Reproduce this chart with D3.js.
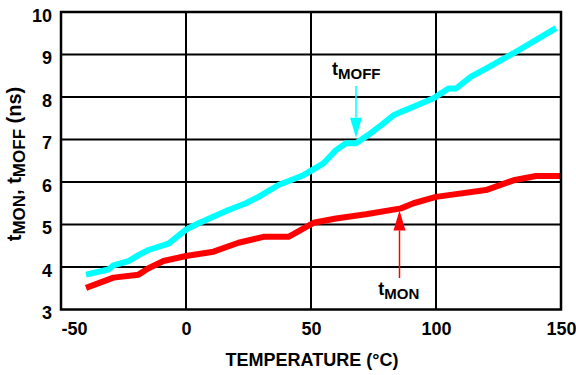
<!DOCTYPE html>
<html>
<head>
<meta charset="utf-8">
<script src="https://cdn.jsdelivr.net/npm/d3@7"></script>
<style>
  body { margin: 0; background: #fff; }
  svg text { font-family: "Liberation Sans", Arial, sans-serif; font-weight: bold; fill: #000; }
</style>
</head>
<body>
<div id="chart"></div>
<script>
// temperature (degC) and delay (ns)
const tMoffTemp = [-40, -31, -29, -23, -19, -15, -7, 0, 5, 17, 24, 29, 37, 47, 55, 60, 64, 68, 73, 79, 83, 86, 91, 99, 105, 108, 114, 120, 131, 148];
const tMoffNs = [3.82, 3.94, 4.04, 4.14, 4.28, 4.40, 4.55, 4.88, 5.03, 5.34, 5.50, 5.65, 5.93, 6.16, 6.44, 6.75, 6.91, 6.91, 7.11, 7.38, 7.57, 7.65, 7.77, 7.97, 8.20, 8.20, 8.48, 8.67, 9.03, 9.62];
const tMonTemp = [-40, -29, -19, -15, -9, 0, 11, 21, 31, 41, 51, 60, 72, 86, 91, 100, 120, 131, 140, 150];
const tMonNs = [3.51, 3.75, 3.82, 3.97, 4.14, 4.26, 4.36, 4.57, 4.71, 4.71, 5.04, 5.14, 5.24, 5.38, 5.50, 5.65, 5.81, 6.04, 6.14, 6.14];
const xTicks = [-50, 0, 50, 100, 150];
const yTicks = [3, 4, 5, 6, 7, 8, 9, 10];

const width = 576, height = 375;
const margin = { top: 12, right: 15, bottom: 65.5, left: 61 };

const svg = d3.select('#chart')
  .append('svg')
  .attr('width', width)
  .attr('height', height);

const x = d3.scaleLinear().domain([-50, 150]).range([margin.left, width - margin.right]);
const y = d3.scaleLinear().domain([3, 10]).range([height - margin.bottom, margin.top]);

// grid
const grid = svg.append('g').attr('class', 'grid');
grid.selectAll('line.v')
  .data(xTicks.slice(1, -1))
  .join('line')
  .attr('class', 'v')
  .attr('x1', d => x(d)).attr('x2', d => x(d))
  .attr('y1', y(3)).attr('y2', y(10))
  .attr('stroke', '#000').attr('stroke-width', 2);
grid.selectAll('line.h')
  .data(yTicks.slice(1, -1))
  .join('line')
  .attr('class', 'h')
  .attr('x1', x(-50)).attr('x2', x(150))
  .attr('y1', d => y(d)).attr('y2', d => y(d))
  .attr('stroke', '#000').attr('stroke-width', 2);

// series
const line = d3.line()
  .x(d => x(d[0]))
  .y(d => y(d[1]));

svg.append('path')
  .datum(d3.zip(tMoffTemp, tMoffNs))
  .attr('d', line)
  .attr('fill', 'none')
  .attr('stroke', '#00ffff')
  .attr('stroke-width', 6)
  .attr('stroke-linejoin', 'round');

svg.append('path')
  .datum(d3.zip(tMonTemp, tMonNs))
  .attr('d', line)
  .attr('fill', 'none')
  .attr('stroke', '#ff0000')
  .attr('stroke-width', 6)
  .attr('stroke-linejoin', 'round');

// frame
svg.append('rect')
  .attr('x', x(-50)).attr('y', y(10))
  .attr('width', x(150) - x(-50)).attr('height', y(3) - y(10))
  .attr('fill', 'none').attr('stroke', '#000').attr('stroke-width', 2.5);

// axes (labels only, the frame draws the lines)
const xAxis = svg.append('g')
  .attr('transform', `translate(0,${y(3)})`)
  .call(d3.axisBottom(x).tickValues(xTicks).tickFormat(d => String(d)).tickSize(0).tickPadding(0));
xAxis.select('.domain').remove();
xAxis.selectAll('text')
  .attr('font-size', 18)
  .attr('dy', 25)
  .attr('text-anchor', d => d === -50 ? 'start' : 'middle');

const yAxis = svg.append('g')
  .attr('transform', `translate(${x(-50)},0)`)
  .call(d3.axisLeft(y).tickValues(yTicks).tickFormat(d3.format('d')).tickSize(0).tickPadding(9));
yAxis.select('.domain').remove();
yAxis.selectAll('text')
  .attr('font-size', 18)
  .attr('dy', '0.5em');

// axis titles
svg.append('text')
  .attr('x', 312)
  .attr('y', 366)
  .attr('text-anchor', 'middle')
  .attr('font-size', 18)
  .text('TEMPERATURE (°C)');

const yTitle = svg.append('text')
  .attr('transform', 'translate(21,164) rotate(-90)')
  .attr('text-anchor', 'middle')
  .attr('font-size', 20);
yTitle.append('tspan').text('t');
yTitle.append('tspan').attr('font-size', 17).attr('dy', 4).text('MON');
yTitle.append('tspan').attr('dy', -4).text(', t');
yTitle.append('tspan').attr('font-size', 17).attr('dy', 4).text('MOFF');
yTitle.append('tspan').attr('dy', -4).text(' (ns)');

// callouts
const callouts = [
  { name: 'MOFF', color: '#00ffff', labelT: 58.4, labelV: 8.52, arrowT: 68, fromV: 8.26, toV: 7.04 },
  { name: 'MON', color: '#ff0000', labelT: 76.9, labelV: 3.34, arrowT: 85.4, fromV: 3.74, toV: 5.33 }
];

callouts.forEach(c => {
  const ax = x(c.arrowT);
  const y0 = y(c.fromV), y1 = y(c.toV);
  const dir = y1 > y0 ? 1 : -1;
  const headLen = 20, headW = 6;
  svg.append('line')
    .attr('x1', ax).attr('x2', ax)
    .attr('y1', y0).attr('y2', y1 - dir * headLen)
    .attr('stroke', c.color).attr('stroke-width', 1.5);
  svg.append('path')
    .attr('d', `M${ax - headW},${y1 - dir * headLen} L${ax + headW},${y1 - dir * headLen} L${ax},${y1} Z`)
    .attr('fill', c.color);
  const t = svg.append('text')
    .attr('x', x(c.labelT))
    .attr('y', y(c.labelV))
    .attr('font-size', 18);
  t.append('tspan').text('t');
  t.append('tspan').attr('font-size', 15).attr('dy', 4).text(c.name);
});
</script>
</body>
</html>
